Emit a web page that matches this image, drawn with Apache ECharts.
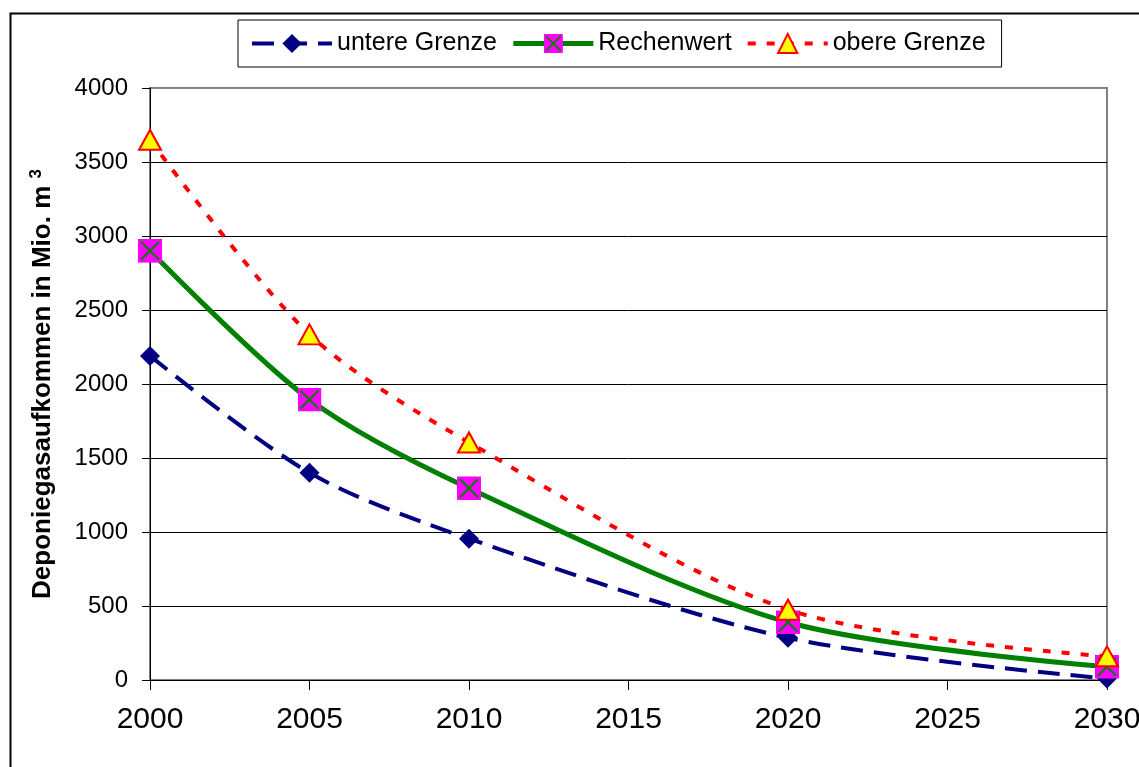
<!DOCTYPE html>
<html>
<head>
<meta charset="utf-8">
<script src="https://cdn.jsdelivr.net/npm/echarts@6/dist/echarts.min.js"></script>
<style>
html,body{margin:0;padding:0;background:#fff;}
#c{width:1139px;height:767px;}
</style>
</head>
<body>
<div id="c"></div>
<script>
const years = [2000, 2005, 2010, 2020, 2030];
const untereGrenze = [2190, 1400, 955, 285, 10];
const rechenwert = [2900, 1895, 1295, 390, 90];
const obereGrenze = [3650, 2335, 1605, 475, 160];
const seriesNames = ['untere Grenze', 'Rechenwert', 'obere Grenze'];
const yTicks = [0, 500, 1000, 1500, 2000, 2500, 3000, 3500, 4000];

const FONT = '"Liberation Sans", Arial, sans-serif';
const pair = arr => years.map((y, i) => [y, arr[i]]);

const sqX = 'image://data:image/svg+xml;charset=utf-8,' + encodeURIComponent(
  "<svg xmlns='http://www.w3.org/2000/svg' width='24' height='24' viewBox='0 0 24 24'>" +
  "<rect width='24' height='24' fill='#FF00FF'/>" +
  "<path d='M3 3L21 21M21 3L3 21' stroke='#008000' stroke-width='2.2'/></svg>");

const chart = echarts.init(document.getElementById('c'), null, {renderer: 'canvas'});
chart.setOption({
  animation: false,
  backgroundColor: '#fff',
  graphic: [{
    type: 'rect', left: 8, top: 11, z: 100,
    shape: {width: 1150, height: 780},
    style: {fill: 'none', stroke: '#000', lineWidth: 2}
  }],
  legend: {
    left: 238, top: 20,
    padding: [11, 16, 11, 12],
    borderColor: '#000', borderWidth: 1,
    itemWidth: 80, itemHeight: 24, itemGap: 14,
    lineStyle: {width: 'inherit'},
    textStyle: {fontSize: 25, fontFamily: FONT, color: '#000'},
    data: seriesNames
  },
  grid: {
    left: 150, right: 32, top: 88, bottom: 87,
    containLabel: false, outerBoundsMode: 'none',
    show: true, borderColor: '#808080', borderWidth: 2, backgroundColor: 'transparent'
  },
  xAxis: {
    type: 'value', min: 2000, max: 2030, interval: 5,
    axisLine: {show: true, onZero: false, lineStyle: {color: '#000', width: 1}},
    axisTick: {show: true, inside: false, length: 10, lineStyle: {color: '#000'}},
    axisLabel: {fontSize: 30, fontFamily: FONT, color: '#000', margin: 25, showMaxLabel: true, hideOverlap: false,
      formatter: v => String(v)},
    splitLine: {show: false}
  },
  yAxis: {
    type: 'value', min: yTicks[0], max: yTicks[yTicks.length - 1], interval: 500,
    name: 'Deponiegasaufkommen in Mio. m {sup|3}',
    nameLocation: 'middle', nameGap: 93,
    nameTextStyle: {
      fontSize: 26, fontWeight: 'bold', fontFamily: FONT, color: '#000',
      rich: {sup: {fontSize: 17, fontWeight: 'bold', fontFamily: FONT, verticalAlign: 'top', padding: [0, 0, 12, 0]}}
    },
    axisLine: {show: true, lineStyle: {color: '#000', width: 1}},
    axisTick: {show: true, length: 8, lineStyle: {color: '#000'}},
    axisLabel: {fontSize: 24, fontFamily: FONT, color: '#000', margin: 22, formatter: v => String(v)},
    splitLine: {show: true, lineStyle: {color: ['#000','#000','#000','#000','#000','#000','#000','#000','#888'], width: 1}}
  },
  series: [
    {
      name: seriesNames[0], type: 'line', data: pair(untereGrenze), smooth: 0.3,
      symbol: 'diamond', symbolSize: [20, 20],
      itemStyle: {color: '#000080'},
      lineStyle: {color: '#000080', width: 4, type: [22, 11]},
      z: 2
    },
    {
      name: seriesNames[1], type: 'line', data: pair(rechenwert), smooth: 0.3,
      symbol: sqX, symbolSize: [24, 24],
      itemStyle: {color: '#008000'},
      lineStyle: {color: '#008000', width: 5},
      z: 3
    },
    {
      name: seriesNames[2], type: 'line', data: pair(obereGrenze), smooth: 0.3,
      symbol: 'triangle', symbolSize: [22, 20],
      itemStyle: {color: '#FFFF00', borderColor: '#FF0000', borderWidth: 2},
      lineStyle: {color: '#FF0000', width: 4, type: [8, 11]},
      z: 4
    }
  ]
});
</script>
</body>
</html>
